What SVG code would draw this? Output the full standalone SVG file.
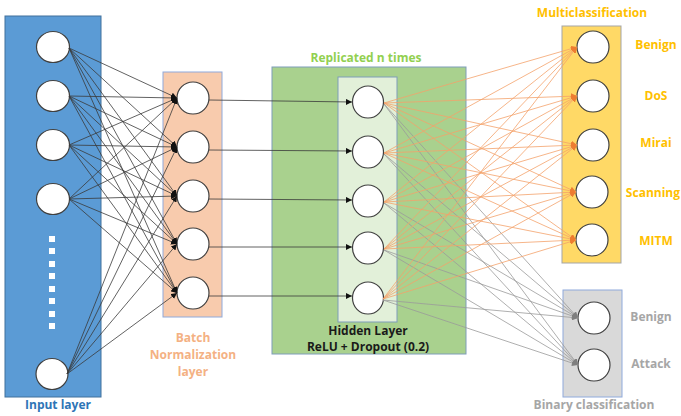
<svg xmlns="http://www.w3.org/2000/svg" width="681" height="416" viewBox="0 0 681 416">
  <style>
    .node { fill: #ffffff; stroke: #404040; stroke-width: 1.2; }
    .lbl { font-family: "Open Sans", "Liberation Sans", sans-serif; font-weight: bold; font-size: 12px; text-anchor: middle; }
    .k { stroke: #3a3a3a; stroke-width: 0.8; fill: none; }
    .o { stroke: #F4A26B; stroke-width: 0.8; fill: none; }
    .g { stroke: #9a9a9a; stroke-width: 0.8; fill: none; }
  </style>
  <defs>
    <marker id="ak" viewBox="0 0 6 6" refX="6" refY="3" markerWidth="6" markerHeight="6" markerUnits="userSpaceOnUse" orient="auto">
      <path d="M0,0 L6,3 L0,6 z" fill="#111"/>
    </marker>
    <marker id="ao" viewBox="0 0 6 6" refX="6" refY="3" markerWidth="6" markerHeight="6" markerUnits="userSpaceOnUse" orient="auto">
      <path d="M0,0 L6,3 L0,6 z" fill="#ED7D31"/>
    </marker>
    <marker id="ag" viewBox="0 0 6 6" refX="6" refY="3" markerWidth="6" markerHeight="6" markerUnits="userSpaceOnUse" orient="auto">
      <path d="M0,0 L6,3 L0,6 z" fill="#7f7f7f"/>
    </marker>
  </defs>
  <rect width="681" height="416" fill="#ffffff"/>

  <!-- layer panels -->
  <g id="input-layer">
    <rect x="5" y="16" width="96" height="381" fill="#5B9BD5" stroke="#41719C" stroke-width="1"/>
    <ellipse class="node" cx="53" cy="47" rx="16.5" ry="15.5"/>
    <ellipse class="node" cx="53" cy="96" rx="16.5" ry="15.5"/>
    <ellipse class="node" cx="53" cy="145" rx="16.5" ry="15.5"/>
    <ellipse class="node" cx="53" cy="199" rx="16.5" ry="15.5"/>
    <ellipse class="node" cx="52" cy="374" rx="16" ry="15.5"/>
    <g fill="#ffffff">
      <rect x="49" y="236" width="6" height="6"/>
      <rect x="49" y="248" width="6" height="6"/>
      <rect x="49" y="261" width="6" height="6"/>
      <rect x="49" y="273" width="6" height="6"/>
      <rect x="49" y="286" width="6" height="6"/>
      <rect x="49" y="298" width="6" height="6"/>
      <rect x="49" y="311" width="6" height="6"/>
      <rect x="49" y="323" width="6" height="6"/>
    </g>
    <text class="lbl" x="58" y="409" fill="#2E75B6">Input layer</text>
  </g>

  <g id="batch-norm-layer">
    <rect x="163" y="72" width="59" height="245" fill="#F8CBAD" stroke="#8FAADC" stroke-width="1"/>
    <ellipse class="node" cx="193" cy="98" rx="16" ry="16"/>
    <ellipse class="node" cx="193" cy="147" rx="16" ry="16"/>
    <ellipse class="node" cx="193" cy="196" rx="16" ry="16"/>
    <ellipse class="node" cx="193" cy="244" rx="16" ry="16"/>
    <ellipse class="node" cx="193" cy="293" rx="16" ry="16"/>
    <text class="lbl" fill="#F4B183"><tspan x="193" y="342">Batch</tspan><tspan x="193" y="359">Normalization</tspan><tspan x="193" y="376">layer</tspan></text>
  </g>

  <g id="hidden-layer">
    <rect x="272" y="67" width="194" height="287" fill="#A9D18E" stroke="#7F9DB9" stroke-width="1"/>
    <rect x="338" y="77" width="59" height="245" fill="#E2F0D9" stroke="#7F9DB9" stroke-width="1"/>
    <ellipse class="node" cx="368" cy="102" rx="15.5" ry="16"/>
    <ellipse class="node" cx="368" cy="152" rx="15.5" ry="16"/>
    <ellipse class="node" cx="368" cy="201" rx="15.5" ry="16"/>
    <ellipse class="node" cx="368" cy="248" rx="15.5" ry="16"/>
    <ellipse class="node" cx="368" cy="298" rx="15.5" ry="16"/>
    <text class="lbl" x="366" y="62" fill="#92D050">Replicated n times</text>
    <text class="lbl" x="368" y="335" fill="#1a1a1a">Hidden Layer</text>
    <text class="lbl" x="368" y="351" fill="#1a1a1a">ReLU + Dropout (0.2)</text>
  </g>

  <g id="multiclass-output">
    <rect x="562" y="26" width="59" height="237" fill="#FFD966" stroke="#A5A5A5" stroke-width="1"/>
    <ellipse class="node" cx="593" cy="47" rx="16" ry="16"/>
    <ellipse class="node" cx="593" cy="96" rx="16" ry="16"/>
    <ellipse class="node" cx="593" cy="145" rx="16" ry="16"/>
    <ellipse class="node" cx="592" cy="192" rx="16" ry="16"/>
    <ellipse class="node" cx="592" cy="240" rx="16" ry="16"/>
    <g class="lbl" fill="#FFC000">
      <text x="592" y="17">Multiclassification</text>
      <text x="656" y="49">Benign</text>
      <text x="656" y="100">DoS</text>
      <text x="656" y="147">Mirai</text>
      <text x="680" y="197" text-anchor="end">Scanning</text>
      <text x="656" y="245">MITM</text>
    </g>
  </g>

  <g id="binary-output">
    <rect x="563" y="290" width="59" height="107" fill="#D9D9D9" stroke="#8FAADC" stroke-width="1"/>
    <ellipse class="node" cx="594" cy="318" rx="16" ry="16"/>
    <ellipse class="node" cx="594" cy="365" rx="16" ry="16"/>
    <g class="lbl" fill="#A6A6A6">
      <text x="651" y="321">Benign</text>
      <text x="651" y="368">Attack</text>
      <text x="594" y="409">Binary classification</text>
    </g>
  </g>

  <!-- connectors -->
  <g id="connectors">
    <!-- input to batch norm -->
    <g class="k" marker-end="url(#ak)">
      <line x1="69" y1="48" x2="177" y2="98"/><line x1="69" y1="48" x2="177" y2="147"/><line x1="69" y1="48" x2="177" y2="196"/><line x1="69" y1="48" x2="177" y2="244"/><line x1="69" y1="48" x2="177" y2="293"/>
      <line x1="69" y1="96" x2="177" y2="98"/><line x1="69" y1="96" x2="177" y2="147"/><line x1="69" y1="96" x2="177" y2="196"/><line x1="69" y1="96" x2="177" y2="244"/><line x1="69" y1="96" x2="177" y2="293"/>
      <line x1="69" y1="145" x2="177" y2="98"/><line x1="69" y1="145" x2="177" y2="147"/><line x1="69" y1="145" x2="177" y2="196"/><line x1="69" y1="145" x2="177" y2="244"/><line x1="69" y1="145" x2="177" y2="293"/>
      <line x1="69" y1="199" x2="177" y2="98"/><line x1="69" y1="199" x2="177" y2="147"/><line x1="69" y1="199" x2="177" y2="196"/><line x1="69" y1="199" x2="177" y2="244"/><line x1="69" y1="199" x2="177" y2="293"/>
      <line x1="67" y1="374" x2="177" y2="98"/><line x1="67" y1="374" x2="177" y2="147"/><line x1="67" y1="374" x2="177" y2="196"/><line x1="67" y1="374" x2="177" y2="244"/><line x1="67" y1="374" x2="177" y2="293"/>
    </g>
    <!-- batch norm to hidden -->
    <g class="k" marker-end="url(#ak)">
      <line x1="209" y1="100" x2="352" y2="102"/>
      <line x1="209" y1="150" x2="352" y2="151"/>
      <line x1="209" y1="199" x2="352" y2="200"/>
      <line x1="209" y1="247" x2="352" y2="247"/>
      <line x1="209" y1="296" x2="352" y2="296"/>
    </g>
    <!-- hidden to binary -->
    <g class="g" marker-end="url(#ag)">
      <line x1="384" y1="104" x2="578" y2="318"/><line x1="384" y1="104" x2="578" y2="365"/>
      <line x1="384" y1="154" x2="578" y2="318"/><line x1="384" y1="154" x2="578" y2="365"/>
      <line x1="384" y1="203" x2="578" y2="318"/><line x1="384" y1="203" x2="578" y2="365"/>
      <line x1="384" y1="250" x2="578" y2="318"/><line x1="384" y1="250" x2="578" y2="365"/>
      <line x1="383" y1="300" x2="578" y2="318"/><line x1="383" y1="300" x2="578" y2="365"/>
    </g>
    <!-- hidden to multiclass -->
    <g class="o" marker-end="url(#ao)">
      <line x1="384" y1="103" x2="577" y2="47"/><line x1="384" y1="103" x2="577" y2="96"/><line x1="384" y1="103" x2="577" y2="145"/><line x1="384" y1="103" x2="576" y2="192"/><line x1="384" y1="103" x2="576" y2="240"/>
      <line x1="384" y1="153" x2="577" y2="47"/><line x1="384" y1="153" x2="577" y2="96"/><line x1="384" y1="153" x2="577" y2="145"/><line x1="384" y1="153" x2="576" y2="192"/><line x1="384" y1="153" x2="576" y2="240"/>
      <line x1="384" y1="202" x2="577" y2="47"/><line x1="384" y1="202" x2="577" y2="96"/><line x1="384" y1="202" x2="577" y2="145"/><line x1="384" y1="202" x2="576" y2="192"/><line x1="384" y1="202" x2="576" y2="240"/>
      <line x1="384" y1="249" x2="577" y2="47"/><line x1="384" y1="249" x2="577" y2="96"/><line x1="384" y1="249" x2="577" y2="145"/><line x1="384" y1="249" x2="576" y2="192"/><line x1="384" y1="249" x2="576" y2="240"/>
      <line x1="383" y1="299" x2="577" y2="47"/><line x1="383" y1="299" x2="577" y2="96"/><line x1="383" y1="299" x2="577" y2="145"/><line x1="383" y1="299" x2="576" y2="192"/><line x1="383" y1="299" x2="576" y2="240"/>
    </g>
  </g>
</svg>
